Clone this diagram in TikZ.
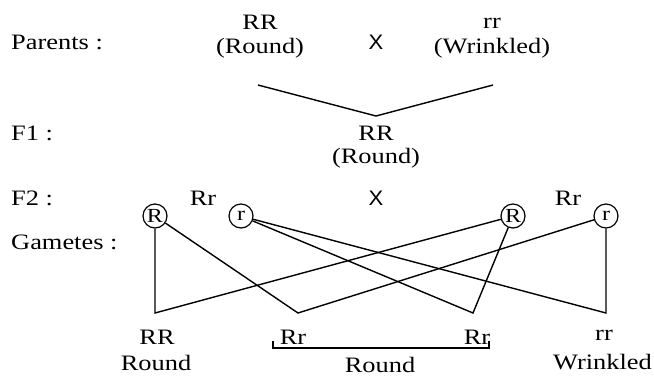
\documentclass[tikz,border=0pt]{standalone}
\usepackage{fontspec}
\setmainfont{Liberation Serif}[FakeStretch=1.2]
\newfontfamily\xfont{Liberation Sans}[FakeStretch=1.05]
\begin{document}
\begin{tikzpicture}[x=1pt,y=-1pt,
  txt/.style={font=\fontsize{22}{26}\selectfont, inner sep=0pt},
  lbl/.style={txt, anchor=west},
  cross/.style={font=\xfont\fontsize{21}{24}\selectfont, inner sep=0pt},
  gam/.style={draw, circle, line width=1.2pt, minimum size=24pt, inner sep=0pt, font=\fontsize{20}{22}\selectfont},
  ln/.style={line width=1.4pt, line join=miter}]
\useasboundingbox (0,0) rectangle (654,376);
% left labels
\node[lbl] (parents) at (11,42) {Parents :};
\node[lbl] (f1) at (11,133) {F1 :};
\node[lbl] (f2) at (11,198) {F2 :};
\node[lbl] (gametes) at (11,242) {Gametes :};
% parents
\node[txt] (pRR) at (260,22) {RR};
\node[txt] (pRound) at (260,48) {(Round)};
\node[cross] (px) at (376,42) {X};
\node[txt] (prr) at (492,23) {rr};
\node[txt] (pWr) at (492,48) {(Wrinkled)};
\coordinate (vl) at (258,85);
\coordinate (vm) at (376,116);
\coordinate (vr) at (493,85);
\draw[ln] (vl) -- (vm) -- (vr);
% F1
\node[txt] (fRR) at (376,133) {RR};
\node[txt] (fRound) at (376,158) {(Round)};
% F2
\node[txt] (rr1) at (203,198) {Rr};
\node[cross] (fx) at (376,198) {X};
\node[txt] (rr2) at (568,198) {Rr};
\node[gam] (R1) at (155,216) {R};
\node[gam] (r1) at (241,216) {r};
\node[gam] (R2) at (513,216) {R};
\node[gam] (r2) at (606,216) {r};
% gamete vertices
\coordinate (g1) at (155,313);
\coordinate (g2) at (298,313);
\coordinate (g3) at (473,313);
\coordinate (g4) at (606,313);
\draw[ln] (R1) -- (g1) -- (R2);
\draw[ln] (R1) -- (g2) -- (r2);
\draw[ln] (r1) -- (g3) -- (R2);
\draw[ln] (r1) -- (g4) -- (r2);
% offspring
\node[txt] (oRR) at (157,337) {RR};
\node[txt] (oRound1) at (156,363) {Round};
\node[txt] (oRr1) at (293,337) {Rr};
\node[txt] (oRr2) at (477,337) {Rr};
\coordinate (bl) at (273,341);
\coordinate (br) at (489,341);
\draw[ln, line width=1.1pt] (bl) -- ++(0,7) -| (br);
\node[txt] (oRound2) at (380,365) {Round};
\node[txt] (orr) at (604,335) {rr};
\node[txt, anchor=east] (oWr) at (652,362) {Wrinkled};
\end{tikzpicture}
\end{document}
